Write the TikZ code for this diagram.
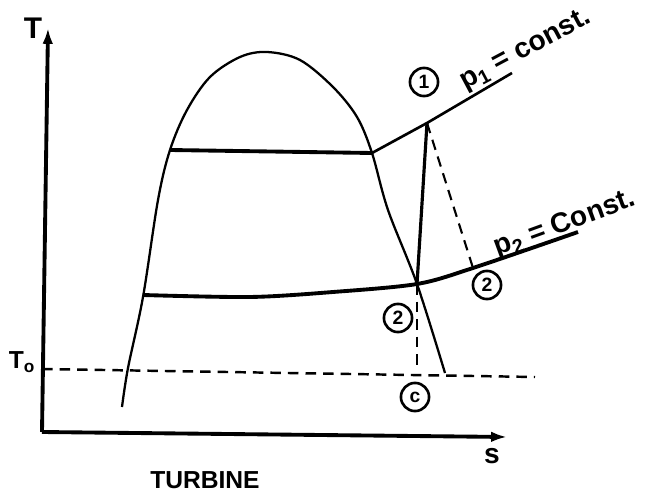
\documentclass[tikz,border=0pt]{standalone}
\usepackage{fontspec}
\setmainfont{Liberation Sans}
\usetikzlibrary{arrows.meta, positioning}

\tikzset{
    axis/.style={line width=2.2pt, -{Latex[length=9pt,width=6pt]}},
    dome/.style={line width=1.3pt},
    isobar/.style={line width=2.2pt},
    dashline/.style={line width=1.4pt, dash pattern=on 6pt off 4pt},
    state/.style={draw, circle, line width=1.5pt, minimum size=16pt, inner sep=0.5pt, font=\bfseries\fontsize{11}{12}\selectfont},
    lbl/.style={font=\bfseries\fontsize{16}{18}\selectfont}
}

\begin{document}
\begin{tikzpicture}[x=0.02cm, y=-0.02cm]
            % Define dimensions
            \useasboundingbox (0,0) rectangle (650,500);
            \coordinate (origin) at (42,432);
            \coordinate (Ttip) at (48,28);
            \coordinate (stip) at (507,437);
            \coordinate (T0l) at (42,369);
            \coordinate (T0r) at (535,377);
            \coordinate (liq) at (170,150);
            \coordinate (vap) at (372,153);
            \coordinate (one) at (427,123);
            \coordinate (p1end) at (512,73);
            \coordinate (two) at (417,284);
            \coordinate (twos) at (473,268);
            \coordinate (zero) at (417,370);
            % Axes
            \draw[axis] (origin) -- (Ttip);
            \draw[axis] (origin) -- (stip);
            \node[lbl, font=\bfseries\fontsize{17}{19}\selectfont] (Tlab) at (33,28) {T};
            \node[lbl] (slab) at (492,456) {s};
            \node[lbl, font=\bfseries\fontsize{14}{16}\selectfont] (T0lab) at (22,362) {T\textsubscript{o}};
            % Dead state temperature
            \draw[dashline] (T0l) -- (T0r);
            % Saturation dome
            \draw[dome] plot[smooth, tension=0.55] coordinates {(122,407) (128,368) (143,297) (158,200) (170,150) (187,110) (210,77) (240,57) (267,52) (300,60) (333,87) (357,117) (372,153) (388,210) (417,284) (445,373)};
            % Isobars
            \draw[isobar] (liq) -- (vap);
            \draw[line width=1.5pt] (vap) -- (one) -- (p1end);
            \draw[isobar] plot[smooth, tension=0.5] coordinates {(143,295) (250,297) (333,292) (417,284) (473,268) (578,232)};
            % Expansion
            \draw[line width=1.8pt] (one) -- (two);
            \draw[dashline, line width=1.2pt] (one) -- (twos);
            \draw[dashline, line width=1.2pt] (two) -- (zero);
            % Labels
            \node[lbl, rotate=28] (p1lab) at (526,50) {p\textsubscript{1} = const.};
            \node[lbl, rotate=20] (p2lab) at (565,224) {p\textsubscript{2} = Const.};
            \foreach \pos/\txt/\nm in {(424,82)/1/st1, (398,318)/2/st2, (487,285)/2/st2s, (415,397)/c/st0}
                \node[state] (\nm) at \pos {\txt};
            \node[font=\bfseries\fontsize{14}{16}\selectfont] (title) at (205,480) {TURBINE};
        \end{tikzpicture}
\end{document}
